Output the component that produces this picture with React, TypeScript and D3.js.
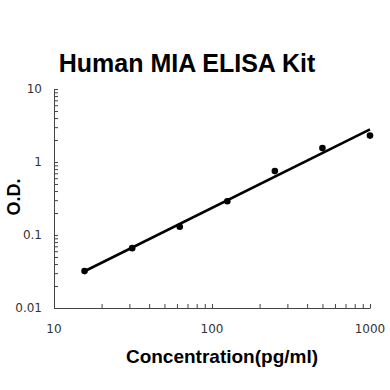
import { useEffect, useRef } from 'react';
import * as d3 from 'd3';

// Standard curve points (concentration pg/ml vs O.D.)
const concentrations = [15.6, 31.25, 62.5, 125, 250, 500, 1000];
const odValues = [0.032, 0.066, 0.13, 0.29, 0.75, 1.55, 2.3];

const xTickLabels = [10, 100, 1000];
const yTickLabels = [0.01, 0.1, 1, 10];

export default function App() {
  const ref = useRef<SVGSVGElement>(null);

  useEffect(() => {
    const svg = d3.select(ref.current);
    svg.selectAll('*').remove();

    const x = d3.scaleLog().domain([10, 1000]).range([54, 370]);
    const y = d3.scaleLog().domain([0.01, 10]).range([308, 89]);

    // log-log least squares fit
    const lx = concentrations.map(Math.log10);
    const ly = odValues.map(Math.log10);
    const mx = d3.mean(lx) || 0;
    const my = d3.mean(ly) || 0;
    const slope =
      d3.sum(lx, (v, i) => (v - mx) * (ly[i] - my)) / d3.sum(lx, v => (v - mx) ** 2);
    const fit = (c: number) => Math.pow(10, my + slope * (Math.log10(c) - mx));

    const axisColor = '#444';

    // x axis
    const gx = svg
      .append('g')
      .attr('transform', `translate(0,${y(0.01)})`)
      .call(
        d3
          .axisTop(x)
          .tickValues(x.ticks())
          .tickSize(4)
          .tickSizeOuter(0)
          .tickFormat(() => '')
      );
    gx.select('.domain').attr('stroke', axisColor).attr('stroke-width', 1);
    gx.selectAll('.tick line').attr('stroke', axisColor);

    // y axis
    const gy = svg
      .append('g')
      .attr('transform', `translate(${x(10)},0)`)
      .call(
        d3
          .axisRight(y)
          .tickValues(y.ticks())
          .tickSize(4)
          .tickSizeOuter(0)
          .tickFormat(() => '')
      );
    gy.select('.domain').attr('stroke', axisColor).attr('stroke-width', 1);
    gy.selectAll('.tick line').attr('stroke', axisColor);

    // tick labels
    svg
      .append('g')
      .selectAll('text')
      .data(xTickLabels)
      .join('text')
      .attr('x', d => x(d))
      .attr('y', y(0.01) + 25)
      .attr('text-anchor', 'middle')
      .attr('font-family', 'DejaVu Sans')
      .attr('font-size', 12)
      .attr('fill', '#333')
      .text(d => String(d));

    svg
      .append('g')
      .selectAll('text')
      .data(yTickLabels)
      .join('text')
      .attr('x', x(10) - 12)
      .attr('y', d => y(d))
      .attr('dy', '0.35em')
      .attr('text-anchor', 'end')
      .attr('font-family', 'DejaVu Sans')
      .attr('font-size', 12)
      .attr('fill', '#333')
      .text(d => String(d));

    // fit line
    const line = d3
      .line<number>()
      .x(d => x(d))
      .y(d => y(fit(d)));
    svg
      .append('path')
      .datum([concentrations[0], concentrations[concentrations.length - 1]])
      .attr('fill', 'none')
      .attr('stroke', '#000')
      .attr('stroke-width', 2.6)
      .attr('d', line);

    // points
    svg
      .append('g')
      .selectAll('circle')
      .data(concentrations)
      .join('circle')
      .attr('cx', d => x(d))
      .attr('cy', (d, i) => y(odValues[i]))
      .attr('r', 3.3)
      .attr('fill', '#000');

    // titles
    svg
      .append('text')
      .attr('x', 187)
      .attr('y', 72)
      .attr('text-anchor', 'middle')
      .attr('font-family', 'Liberation Sans, Arial, sans-serif')
      .attr('font-weight', 'bold')
      .attr('font-size', 25)
      .text('Human MIA ELISA Kit');

    svg
      .append('text')
      .attr('x', 222)
      .attr('y', 363)
      .attr('text-anchor', 'middle')
      .attr('font-family', 'Liberation Sans, Arial, sans-serif')
      .attr('font-weight', 'bold')
      .attr('font-size', 19)
      .text('Concentration(pg/ml)');

    svg
      .append('text')
      .attr('transform', 'translate(20,197) rotate(-90)')
      .attr('text-anchor', 'middle')
      .attr('font-family', 'Liberation Sans, Arial, sans-serif')
      .attr('font-weight', 'bold')
      .attr('font-size', 18)
      .text('O.D.');
  }, []);

  return (
    <svg
      ref={ref}
      width={390}
      height={390}
      style={{ position: 'absolute', left: 0, top: 0, background: '#fff' }}
    />
  );
}
